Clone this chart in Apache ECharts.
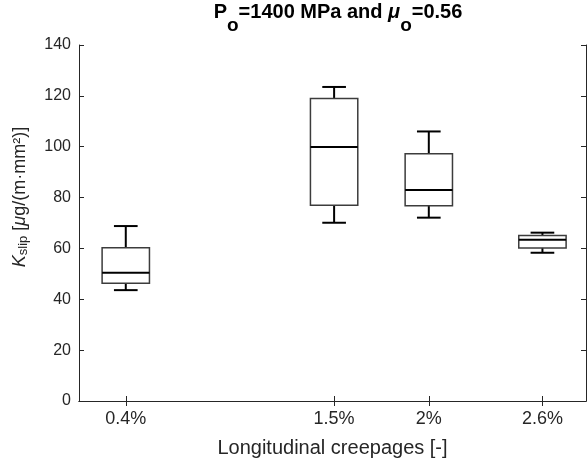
<!DOCTYPE html>
<html>
<head>
<meta charset="utf-8">
<script src="https://cdn.jsdelivr.net/npm/echarts@6/dist/echarts.min.js"></script>
<style>html,body{margin:0;padding:0;background:#fff;}#c{width:588px;height:463px;}</style>
</head>
<body>
<div id="c"></div>
<script>
// ---- data ----
const categories = ['0.4%', '1.5%', '2%', '2.6%'];
const positions = [0.4, 1.5, 2, 2.6];
const whiskerLow = [43.6, 70.1, 72.1, 58.3];
const q1 = [46.3, 77.0, 76.8, 60.2];
const median = [50.4, 99.9, 83.0, 63.4];
const q3 = [60.3, 119.0, 97.2, 65.1];
const whiskerHigh = [68.8, 123.5, 106.0, 66.2];
const yTickValues = [0, 20, 40, 60, 80, 100, 120, 140];

const FONT = 'Liberation Sans, Arial, sans-serif';
const TXT = '#262626';

const boxData = positions.map((p, i) => [p, whiskerLow[i], q1[i], median[i], q3[i], whiskerHigh[i]]);

const chart = echarts.init(document.getElementById('c'), null, {renderer: 'canvas'});

function renderBox(params, api) {
  const x = api.value(0);
  const pLo = api.coord([x, api.value(1)]);
  const pQ1 = api.coord([x, api.value(2)]);
  const pMed = api.coord([x, api.value(3)]);
  const pQ3 = api.coord([x, api.value(4)]);
  const pHi = api.coord([x, api.value(5)]);
  const w = api.size([0.25, 0])[0];
  const cw = api.size([0.125, 0])[0];
  const cx = pMed[0];
  const blk = {stroke: '#000', lineWidth: 2};
  return {
    type: 'group',
    children: [
      {type: 'line', shape: {x1: cx, y1: pQ3[1], x2: cx, y2: pHi[1]}, style: blk},
      {type: 'line', shape: {x1: cx, y1: pQ1[1], x2: cx, y2: pLo[1]}, style: blk},
      {type: 'line', shape: {x1: cx - cw / 2, y1: pHi[1], x2: cx + cw / 2, y2: pHi[1]}, style: blk},
      {type: 'line', shape: {x1: cx - cw / 2, y1: pLo[1], x2: cx + cw / 2, y2: pLo[1]}, style: blk},
      {type: 'rect', shape: {x: cx - w / 2, y: pQ3[1], width: w, height: pQ1[1] - pQ3[1]},
        style: {fill: 'rgba(0,0,0,0)', stroke: '#3c3c3c', lineWidth: 1.5}},
      {type: 'line', shape: {x1: cx - w / 2, y1: pMed[1], x2: cx + w / 2, y2: pMed[1]}, style: blk}
    ]
  };
}

const axisLineStyle = {color: TXT, width: 1};
const xMin = 0.153, xMax = 2.83;

const option = {
  animation: false,
  backgroundColor: '#fff',
  title: {
    text: '{b|P}{s|o}{b|=1400 MPa and }{bi|μ}{s|o}{b|=0.56}',
    left: 333, top: -3, textAlign: 'center',
    textStyle: {
      rich: {
        b: {fontFamily: FONT, fontSize: 20, fontWeight: 'bold', color: '#000', verticalAlign: 'top', lineHeight: 22},
        bi: {fontFamily: FONT, fontSize: 20, fontWeight: 'bold', fontStyle: 'italic', color: '#000', verticalAlign: 'top', lineHeight: 22},
        s: {fontFamily: FONT, fontSize: 19, fontWeight: 'bold', color: '#000', verticalAlign: 'top', padding: [14, 0, 0, 0]}
      }
    }
  },
  grid: {left: 79, right: 2, top: 45, bottom: 62, containLabel: false},
  xAxis: [{
    type: 'value', min: xMin, max: xMax, position: 'bottom',
    axisLine: {show: true, lineStyle: axisLineStyle},
    axisTick: {show: true, inside: true, length: 5, customValues: positions, lineStyle: axisLineStyle},
    axisLabel: {show: true, customValues: positions, margin: 9, color: TXT, fontFamily: FONT, fontSize: 18,
      formatter: v => { const i = positions.indexOf(v); return i >= 0 ? categories[i] : ''; }},
    splitLine: {show: false},
    name: 'Longitudinal creepages [-]', nameLocation: 'middle', nameGap: 37,
    nameTextStyle: {color: TXT, fontFamily: FONT, fontSize: 20}
  }, {
    type: 'value', min: xMin, max: xMax, position: 'top',
    axisLine: {show: true, lineStyle: axisLineStyle},
    axisTick: {show: true, inside: true, length: 5, customValues: positions, lineStyle: axisLineStyle},
    axisLabel: {show: false}, splitLine: {show: false}
  }],
  yAxis: [{
    type: 'value', min: 0, max: 140, interval: 20, position: 'left',
    axisLine: {show: true, lineStyle: axisLineStyle},
    axisTick: {show: true, inside: true, length: 5, lineStyle: axisLineStyle},
    axisLabel: {show: true, margin: 8, color: TXT, fontFamily: FONT, fontSize: 16,
      formatter: v => yTickValues.indexOf(v) >= 0 ? String(v) : ''},
    splitLine: {show: false}
  }, {
    type: 'value', min: 0, max: 140, interval: 20, position: 'right',
    axisLine: {show: true, lineStyle: axisLineStyle},
    axisTick: {show: true, inside: true, length: 5, lineStyle: axisLineStyle},
    axisLabel: {show: false}, splitLine: {show: false}
  }],
  graphic: [{
    type: 'text',
    x: 21, y: 197,
    rotation: Math.PI / 2,
    style: {
      text: '{i|K}{s|slip}{n| [}{mu|μ}{n|g/(m·mm²)]}',
      align: 'center', verticalAlign: 'middle',
      rich: {
        i: {fontFamily: FONT, fontSize: 18, fontStyle: 'italic', fill: TXT, verticalAlign: 'top', lineHeight: 20},
        n: {fontFamily: FONT, fontSize: 18, fill: TXT, verticalAlign: 'top', lineHeight: 20},
        mu: {fontFamily: FONT, fontSize: 18, fontStyle: 'italic', fill: TXT, verticalAlign: 'top', lineHeight: 20},
        s: {fontFamily: FONT, fontSize: 13, fill: TXT, verticalAlign: 'top', padding: [6, 0, 0, 0]}
      }
    }
  }],
  series: [{
    type: 'custom',
    xAxisIndex: 0, yAxisIndex: 0,
    renderItem: renderBox,
    encode: {x: 0, y: [1, 2, 3, 4, 5]},
    data: boxData,
    clip: false
  }]
};
chart.setOption(option);
</script>
</body>
</html>
